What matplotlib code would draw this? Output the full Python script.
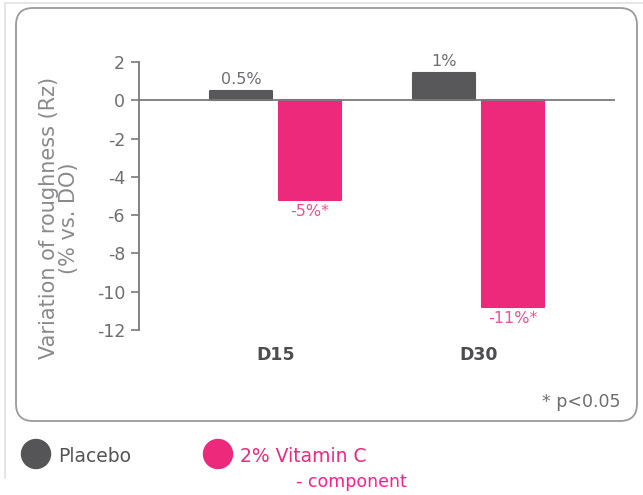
import numpy as np
import matplotlib
matplotlib.use("Agg")
import matplotlib.pyplot as plt
from matplotlib.patches import FancyBboxPatch, Circle
from matplotlib.lines import Line2D

# data
days = ["D15", "D30"]
placebo = [0.5, 1.4]
vitamin_c = [-5.2, -10.8]
placebo_labels = ["0.5%", "1%"]
vitamin_labels = ["-5%*", "-11%*"]
y_ticks = [2, 0, -2, -4, -6, -8, -10, -12]

grey_bar = '#58585a'
pink = '#ec297b'
pink_text = '#ee4f95'
text_grey = '#6d6e71'
axis_grey = '#7a7a7a'

plt.rcParams['font.family'] = ['DejaVu Sans']

W, H = 643, 495
fig = plt.figure(figsize=(W / 100, H / 100), dpi=100)
px = fig.dpi_scale_trans  # inches; 1 inch = 100 px


def P(x, y):
    # image pixel (top-left origin) -> inches
    return x / 100, (H - y) / 100


# outer faint frame
fig.add_artist(Line2D([5 / W, 1], [1 - 3 / H, 1 - 3 / H], color='#e2e2e2', lw=1.2, zorder=-6))
fig.add_artist(Line2D([5 / W, 5 / W], [1 - 3 / H, 1 - 478 / H], color='#e2e2e2', lw=1.2, zorder=-6))

# rounded panel
x0, y0 = P(16, 421)
box = FancyBboxPatch((x0, y0), 621 / 100, 413 / 100,
                     boxstyle="round,pad=0,rounding_size=0.17",
                     transform=px, facecolor='white', edgecolor='#9a9a9a', lw=1.3,
                     zorder=-5)
fig.add_artist(box)

ax = fig.add_axes([139 / W, 1 - 330 / H, (615 - 139) / W, (330 - 62) / H])
ax.set_facecolor('none')

x = np.arange(len(days))
w = 0.305
gap = 0.016
# same-colour edges with round joins give the soft corners of the original
b1 = ax.bar(x - w / 2 - gap, placebo, width=w, color=grey_bar, edgecolor=grey_bar,
            linewidth=1.5, joinstyle='round', zorder=3)
b2 = ax.bar(x + w / 2 + gap, vitamin_c, width=w, color=pink, edgecolor=pink,
            linewidth=1.5, joinstyle='round', zorder=3)

for rect, lab in zip(b1, placebo_labels):
    ax.annotate(lab, (rect.get_x() + rect.get_width() / 2, rect.get_height()),
                xytext=(0, 3), textcoords='offset points', ha='center', va='bottom',
                fontsize=11.5, color=text_grey, annotation_clip=False)
for rect, lab in zip(b2, vitamin_labels):
    ax.annotate(lab, (rect.get_x() + rect.get_width() / 2, rect.get_height()),
                xytext=(0, -3), textcoords='offset points', ha='center', va='top',
                fontsize=11.5, color=pink_text, annotation_clip=False)

ax.axhline(0, color=axis_grey, lw=1.3, zorder=4)
ax.set_xlim(-0.672, 1.672)
ax.set_ylim(-12, 2)
ax.set_yticks(y_ticks)
ax.set_yticklabels([str(t) for t in y_ticks])
ax.tick_params(axis='y', direction='out', length=6, width=1.2, color=axis_grey,
               labelcolor=text_grey, labelsize=12.5, pad=4)
ax.set_xticks([])
for s in ['top', 'right', 'bottom']:
    ax.spines[s].set_visible(False)
ax.spines['left'].set_color(axis_grey)
ax.spines['left'].set_linewidth(1.3)

for xi, d in zip(x, days):
    ax.text(xi, -13.3, d, ha='center', va='center', fontsize=12.5,
            fontweight='bold', color='#4d4d4f')

fig.text(59 / W, 1 - 218 / H, "Variation of roughness (Rz)\n(% vs. DO)",
         rotation=90, ha='center', va='center', multialignment='center',
         fontsize=15, color='#8a8a8d', linespacing=0.95)

fig.text(620 / W, 1 - 402 / H, "* p<0.05", ha='right', va='center',
         fontsize=12.5, color=text_grey)

# legend
fig.add_artist(Circle(P(36, 454), 0.145, transform=px, color='#555557'))
fig.text(58 / W, 1 - 456 / H, "Placebo", ha='left', va='center',
         fontsize=13.5, color='#555557')
fig.add_artist(Circle(P(218, 454), 0.145, transform=px, color=pink))
fig.text(240 / W, 1 - 456 / H, "2% Vitamin C", ha='left', va='center',
         fontsize=13.5, color=pink)
fig.text(296 / W, 1 - 482 / H, "- component", ha='left', va='center',
         fontsize=12.5, color='#ff1f8e')

fig.savefig("out.png", dpi=100)
